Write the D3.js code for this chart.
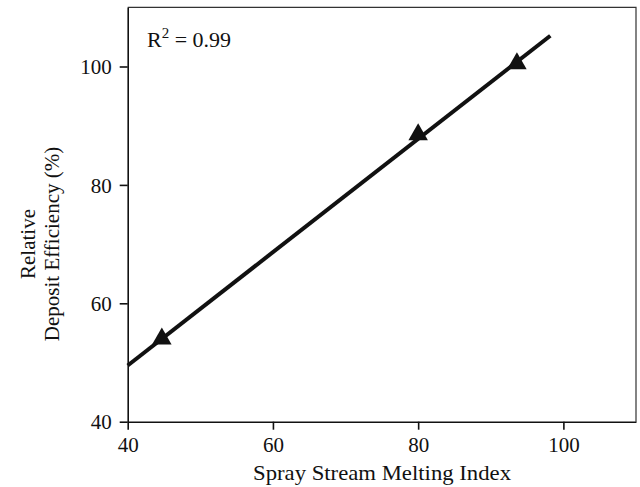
<!DOCTYPE html>
<html>
<head>
<meta charset="utf-8">
<script src="https://cdn.jsdelivr.net/npm/d3@7"></script>
<style>
  html, body { margin: 0; padding: 0; background: #fff; }
  svg { display: block; }
  text { font-family: "Liberation Serif", "Times New Roman", serif; fill: #111; }
</style>
</head>
<body>
<svg id="chart" width="640" height="487"></svg>
<script>
// Measured points: melting index vs relative deposit efficiency
const meltingIndex = [44.7, 80, 93.6];
const depositEff = [54.0, 88.5, 100.5];
// Linear fit line endpoints (x values) and fit coefficients
const fitX = [40, 98.2];
const fitSlope = 0.957;
const fitIntercept = 49.5 - 0.957 * 40;
const xTicks = [40, 60, 80, 100];
const yTicks = [40, 60, 80, 100];
const xDomain = [40, 110];
const yDomain = [40, 110];
const r2Label = "0.99";

const svg = d3.select("#chart");
const margin = { left: 127.7, right: 4, top: 7.3, bottom: 65.3 };
const W = 640, H = 487;
const fontSize = 21;

const x = d3.scaleLinear().domain(xDomain).range([margin.left, W - margin.right]);
const y = d3.scaleLinear().domain(yDomain).range([H - margin.bottom, margin.top]);

// Frame: top and right borders
svg.append("path")
  .attr("d", `M${x(xDomain[0])},${y(yDomain[1])}H${x(xDomain[1])}V${y(yDomain[0])}`)
  .attr("fill", "none").attr("stroke", "#333").attr("stroke-width", 1.2);

// Axes
const xAxis = svg.append("g")
  .attr("transform", `translate(0,${y(yDomain[0])})`)
  .call(d3.axisBottom(x).tickValues(xTicks).tickSize(8).tickPadding(4).tickSizeOuter(0));
const yAxis = svg.append("g")
  .attr("transform", `translate(${x(xDomain[0])},0)`)
  .call(d3.axisLeft(y).tickValues(yTicks).tickSize(8).tickPadding(8).tickSizeOuter(0));

[xAxis, yAxis].forEach(g => {
  g.select(".domain").attr("stroke", "#111").attr("stroke-width", 1.6);
  g.selectAll(".tick line").attr("stroke", "#111").attr("stroke-width", 1.6);
  g.selectAll(".tick text")
    .style("font-family", '"Liberation Serif", "Times New Roman", serif')
    .style("font-size", fontSize + "px").attr("fill", "#111");
});
yAxis.selectAll(".tick text").attr("dy", "0.34em");
xAxis.selectAll(".tick text").attr("dy", "0.85em");

// Fit line
const line = d3.line().x(d => x(d)).y(d => y(fitIntercept + fitSlope * d));
svg.append("path")
  .datum(fitX)
  .attr("d", line)
  .attr("fill", "none").attr("stroke", "#111").attr("stroke-width", 4);

// Data markers
svg.selectAll(".pt")
  .data(meltingIndex.map((v, i) => [v, depositEff[i]]))
  .join("path")
  .attr("class", "pt")
  .attr("transform", d => `translate(${x(d[0])},${y(d[1])})`)
  .attr("d", d3.symbol(d3.symbolTriangle, 165))
  .attr("fill", "#111");

// R² annotation
const r2 = svg.append("text")
  .attr("x", 147).attr("y", 47)
  .style("font-size", "22px");
r2.append("tspan").text("R");
r2.append("tspan").attr("dy", -9).style("font-size", "15px").text("2");
r2.append("tspan").attr("dy", 9).text(" = " + r2Label);

// Axis titles
svg.append("text")
  .attr("x", 382).attr("y", 480)
  .attr("text-anchor", "middle")
  .attr("textLength", 258)
  .attr("lengthAdjust", "spacingAndGlyphs")
  .style("font-size", "22px")
  .text("Spray Stream Melting Index");

const yl = svg.append("text")
  .attr("transform", `translate(0,244) rotate(-90)`)
  .attr("text-anchor", "middle")
  .style("font-size", fontSize + "px");
yl.append("tspan").attr("x", 0).attr("y", 35).text("Relative");
yl.append("tspan").attr("x", 0).attr("y", 59).text("Deposit Efficiency (%)");
</script>
</body>
</html>
